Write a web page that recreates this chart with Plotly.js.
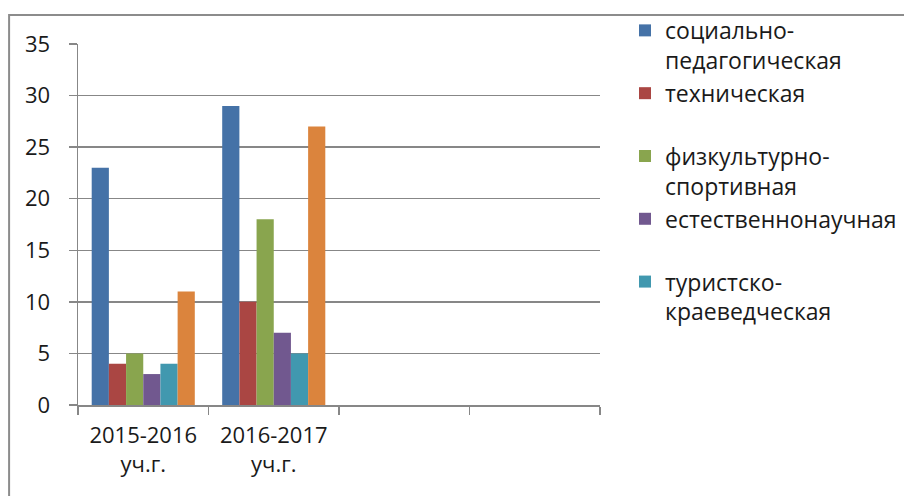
<!DOCTYPE html>
<html>
<head>
<meta charset="utf-8">
<script src="https://cdn.plot.ly/plotly-3.0.1.min.js"></script>
<style>html,body{margin:0;padding:0;background:#fff;}#chart{width:904px;height:496px;}</style>
</head>
<body>
<div id="chart"></div>
<script>
var categories = ["2015-2016<br>уч.г.", "2016-2017<br>уч.г.", " ", "  "];
var seriesNames = ["социально-<br>педагогическая", "техническая<br>&nbsp;", "физкультурно-<br>спортивная", "естественнонаучная<br>&nbsp;", "туристско-<br>краеведческая", "художественная"];
var seriesColors = ["#4572A7", "#AA4643", "#89A54E", "#71588F", "#4198AF", "#DB843D"];
var socialPed = [23, 29];
var technical = [4, 10];
var sport = [5, 18];
var naturalSci = [3, 7];
var tourism = [4, 5];
var artistic = [11, 27];
var yTicks = [0, 5, 10, 15, 20, 25, 30, 35];

var values = [socialPed, technical, sport, naturalSci, tourism, artistic];
var traces = values.map(function (v, i) {
  return {
    type: "bar",
    x: categories.slice(0, v.length),
    y: v,
    name: seriesNames[i],
    marker: {color: seriesColors[i], line: {width: 0}},
    showlegend: i < 5,
    hoverinfo: "skip"
  };
});

var font = {family: "'Open Sans', Lato, sans-serif", size: 22, color: "#1a1a1a"};
var legendFont = {family: "'Open Sans', Lato, sans-serif", size: 23, color: "#1a1a1a"};
var layout = {
  width: 904, height: 496,
  margin: {l: 78, r: 304, t: 44, b: 91, pad: 0},
  paper_bgcolor: "#fff", plot_bgcolor: "#fff",
  font: font,
  barmode: "group",
  bargap: 0.21,
  bargroupgap: 0,
  xaxis: {
    type: "category",
    categoryorder: "array",
    categoryarray: categories,
    range: [-0.5, 3.5],
    tickson: "boundaries",
    ticks: "outside", ticklen: 8, tickcolor: "#878787", tickwidth: 1.5,
    showline: true, linecolor: "#878787", linewidth: 1.5,
    showgrid: false, zeroline: false,
    tickfont: font,
    ticklabelstandoff: 10
  },
  yaxis: {
    range: [0, 35],
    tickvals: yTicks,
    ticks: "outside", ticklen: 8, tickcolor: "#878787", tickwidth: 1.5,
    showline: true, linecolor: "#878787", linewidth: 1.5,
    showgrid: true, gridcolor: "#878787", gridwidth: 1.5,
    zeroline: false,
    tickfont: font,
    ticklabelstandoff: 14
  },
  legend: {
    xref: "container", yref: "container",
    x: 0.6914, xanchor: "left", y: 0.982, yanchor: "top",
    font: legendFont, valign: "top", maxheight: 480,
    bgcolor: "rgba(0,0,0,0)", borderwidth: 0,
    itemclick: false, itemdoubleclick: false
  },
  shapes: [{
    type: "rect", xref: "paper", yref: "paper",
    x0: -0.132, x1: 1.8, y0: -0.6, y1: 1.08,
    line: {color: "#8c8c8c", width: 2}, fillcolor: "rgba(0,0,0,0)", layer: "below"
  }]
};

Plotly.newPlot("chart", traces, layout, {staticPlot: true, displayModeBar: false});
</script>
</body>
</html>
